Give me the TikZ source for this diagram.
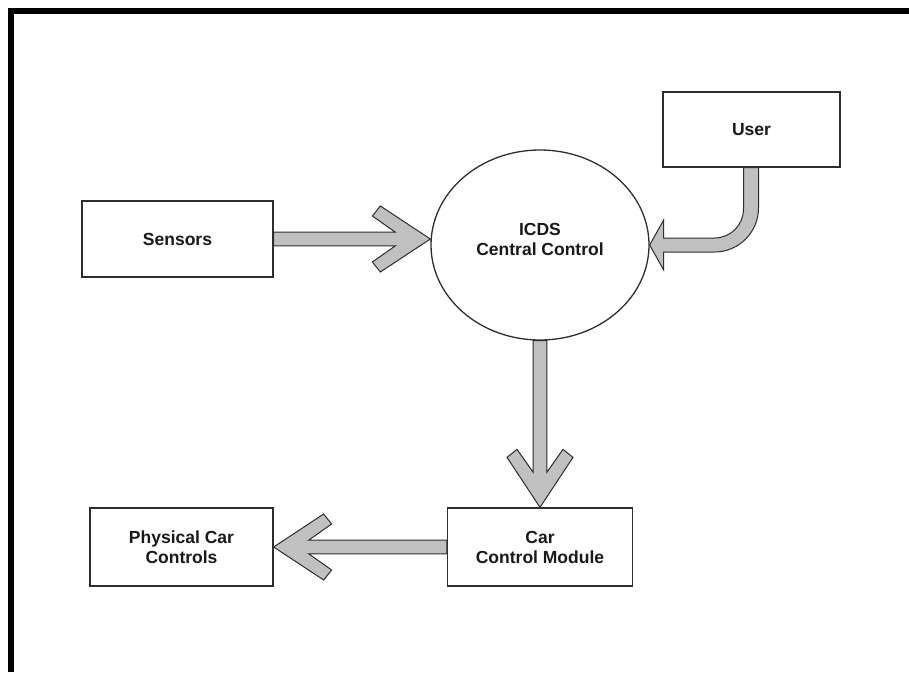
\documentclass[tikz,border=0pt]{standalone}
\usepackage{fontspec}
\setmainfont{Liberation Sans}
\usetikzlibrary{shapes.geometric,calc}

\definecolor{shaftgray}{RGB}{192,192,192}
\definecolor{edgegray}{RGB}{45,45,45}

\tikzset{
  block/.style={draw=edgegray, line width=1.3pt, fill=white, inner sep=0pt,
    font=\fontsize{17.5}{20}\selectfont\bfseries, text=black!90, align=center},
  fatarrowline/.style={draw=edgegray, line width=1pt, fill=shaftgray, line join=miter},
}

% Thick outlined arrow with a chevron head, from tail point #1 to tip #2
\newcommand\fatarrow[2]{%
  \path let \p1=(#1), \p2=(#2),
            \n1={veclen(\x2-\x1,\y2-\y1)},
            \n2={atan2(\y2-\y1,\x2-\x1)} in
        \pgfextra{\xdef\farlen{\n1}\xdef\farang{\n2}};
  \begin{scope}[shift={(#2)}, rotate=\farang]
    \draw[fatarrowline] (0,0) -- (-50,33) -- (-58,23) -- (-35,6.8)
      -- (-\farlen,6.8) -- (-\farlen,-6.8) -- (-35,-6.8)
      -- (-58,-23) -- (-50,-33) -- cycle;
  \end{scope}}

\begin{document}
\begin{tikzpicture}[x=1pt, y=1pt]
  \useasboundingbox (0,0) rectangle (909,-672);

  % page frame (open to the right and bottom)
  \draw[line width=5.5pt, line join=miter] (11,-672) -- (11,-11) -- (909,-11);

  % blocks
  \node[block, minimum width=191, minimum height=76] (sensors) at (177.5,-239) {Sensors};
  \node[block, minimum width=177, minimum height=75] (user) at (751.5,-129.5) {User};
  \node[block, ellipse, minimum width=218, minimum height=190] (icds) at (540,-245) {};
  \node[font=\fontsize{17.5}{20}\selectfont\bfseries, text=black!90, align=center]
    (icdstext) at (540,-239) {ICDS\\Central Control};
  \node[block, minimum width=185, minimum height=78] (ccm) at (540,-547) {Car\\Control Module};
  \node[block, minimum width=183, minimum height=78] (pcc) at (181.5,-547) {Physical Car\\Controls};

  % straight connectors
  \fatarrow{sensors.east}{icds.west |- sensors.east}
  \fatarrow{icds.south}{ccm.north}
  \fatarrow{ccm.west}{pcc.east}

  % bent connector from the user block into the controller
  \draw[fatarrowline] let \p1=(user.south), \p2=(icds.east) in
    (\x1-8,\y1) -- (\x1-8,\y2+36) arc(0:-90:29)
    -- (\x2+14,\y2+7) -- (\x2+14,\y2+25) -- (\x2,\y2)
    -- (\x2+14,\y2-25) -- (\x2+14,\y2-7)
    -- (\x1-37,\y2-7) arc(-90:0:44) -- (\x1+7,\y1) -- cycle;
\end{tikzpicture}
\end{document}
